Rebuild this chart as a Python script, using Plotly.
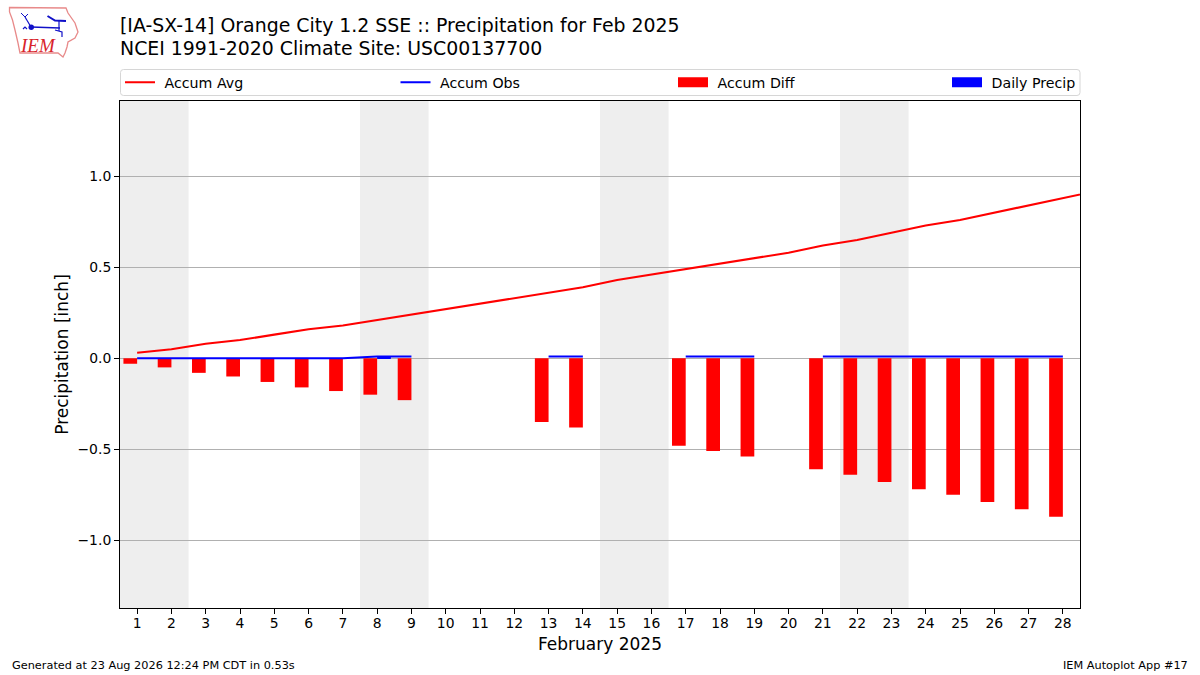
import plotly.graph_objects as go

# day of month for the whole chart, 29 is only there so the avg line runs off the right edge
avg_days = list(range(1, 30))
accum_avg = [0.03, 0.05, 0.08, 0.10, 0.13, 0.16, 0.18, 0.21, 0.24, 0.27,
             0.30, 0.33, 0.36, 0.39, 0.43, 0.46, 0.49, 0.52, 0.55, 0.58,
             0.62, 0.65, 0.69, 0.73, 0.76, 0.80, 0.84, 0.88, 0.92]

days = list(range(1, 29))
accum_obs = [0, 0, 0, 0, 0, 0, 0, 0.01, 0.01, None,
             None, None, 0.01, 0.01, None, None, 0.01, 0.01, 0.01, None,
             0.01, 0.01, 0.01, 0.01, 0.01, 0.01, 0.01, 0.01]
accum_diff = [-0.03, -0.05, -0.08, -0.10, -0.13, -0.16, -0.18, -0.20, -0.23, None,
              None, None, -0.35, -0.38, None, None, -0.48, -0.51, -0.54, None,
              -0.61, -0.64, -0.68, -0.72, -0.75, -0.79, -0.83, -0.87]
daily_precip = [0, 0, 0, 0, 0, 0, 0, 0.01, 0, None,
                None, None, 0, 0, None, None, 0, 0, 0, None,
                0, 0, 0, 0, 0, 0, 0, 0]

weekends = [(0.5, 2.5), (7.5, 9.5), (14.5, 16.5), (21.5, 23.5)]
y_ticks = [-1.0, -0.5, 0.0, 0.5, 1.0]
y_labels = ["\u22121.0", "\u22120.5", "0.0", "0.5", "1.0"]

FONT = "DejaVu Sans"
W, H = 1200, 675
L, R, T, B = 120, 1080, 101, 608
GAP = "\u00a0"  # legend text sits a bit further from its key in the original


# paper coords from page pixels, used for things outside the axes
def px(x):
    return (x - L) / (R - L)


def py(y):
    return (B - y) / (B - T)


def path(points, close=False):
    d = "M " + " L ".join(f"{px(x):.5f},{py(y):.5f}" for x, y in points)
    return d + (" Z" if close else "")


# one legend per entry, a single plotly legend wraps at this spacing
def legend_at(x):
    return dict(
        orientation="h", x=px(x), y=py(82.5), xanchor="left", yanchor="middle",
        bgcolor="rgba(0,0,0,0)", borderwidth=0, itemclick=False, itemdoubleclick=False,
        font=dict(size=14.2),
    )


fig = go.Figure()

fig.add_trace(go.Bar(
    x=days, y=accum_diff, name="Accum Diff", marker_color="#ff0000", marker_line_width=0,
    width=0.4, offset=-0.4, showlegend=False,
))
fig.add_trace(go.Bar(
    x=days, y=daily_precip, name="Daily Precip", marker_color="#0000ff", marker_line_width=0,
    width=0.4, offset=0, showlegend=False,
))
fig.add_trace(go.Scatter(
    x=avg_days, y=accum_avg, name=GAP + "Accum Avg", mode="lines", legend="legend",
    line=dict(color="#ff0000", width=2.08), showlegend=True,
))
fig.add_trace(go.Scatter(
    x=days, y=accum_obs, name=GAP + "Accum Obs", mode="lines", legend="legend2",
    line=dict(color="#0000ff", width=2.08), showlegend=True,
))

# thick legend-only lines, the bar legend key is too small otherwise
fig.add_trace(go.Scatter(
    x=[None], y=[None], name=GAP + "Accum Diff", mode="lines", legend="legend3",
    line=dict(color="#ff0000", width=10), showlegend=True,
))
fig.add_trace(go.Scatter(
    x=[None], y=[None], name=GAP + "Daily Precip", mode="lines", legend="legend4",
    line=dict(color="#0000ff", width=10), showlegend=True,
))

shapes = []
for start, end in weekends:
    shapes.append(dict(type="rect", xref="x", yref="paper", x0=start, x1=end, y0=0, y1=1,
                       fillcolor="#eeeeee", line_width=0, layer="below"))

# rounded legend frame
x0, x1, y0, y1, r = 120.5, 1080, 69.5, 95.5, 3
frame = (f"M {px(x0 + r):.5f},{py(y0):.5f} L {px(x1 - r):.5f},{py(y0):.5f} "
         f"Q {px(x1):.5f},{py(y0):.5f} {px(x1):.5f},{py(y0 + r):.5f} "
         f"L {px(x1):.5f},{py(y1 - r):.5f} Q {px(x1):.5f},{py(y1):.5f} {px(x1 - r):.5f},{py(y1):.5f} "
         f"L {px(x0 + r):.5f},{py(y1):.5f} Q {px(x0):.5f},{py(y1):.5f} {px(x0):.5f},{py(y1 - r):.5f} "
         f"L {px(x0):.5f},{py(y0 + r):.5f} Q {px(x0):.5f},{py(y0):.5f} {px(x0 + r):.5f},{py(y0):.5f} Z")
shapes.append(dict(type="path", xref="paper", yref="paper", path=frame,
                   line=dict(color="#d6d6d6", width=1)))

# IEM logo, state outline and the blue station mark
outline = [(9.5, 7.5), (66, 8), (68, 13), (75, 23), (78, 32), (75, 38), (68, 42), (67, 47),
           (65, 53), (63, 57), (58, 53), (20, 53), (18, 43), (15, 30), (12.5, 20), (9.5, 12)]
shapes.append(dict(type="path", xref="paper", yref="paper", path=path(outline, close=True),
                   line=dict(color="#e88a8a", width=1.3)))
for pts, width in [
    ([(31, 27), (60, 28)], 1.6),
    ([(31, 27), (25, 17)], 1.2),
    ([(21, 13), (25, 17), (28, 14)], 1),
    ([(47.5, 16), (55, 20.5), (66, 21)], 2),
    ([(59, 21), (59, 31)], 1.2),
    ([(55, 30), (62, 32), (62, 37)], 1.2),
    ([(23, 29), (25, 27), (27, 29)], 1.2),
]:
    shapes.append(dict(type="path", xref="paper", yref="paper", path=path(pts),
                       line=dict(color="#1010c8", width=width)))
shapes.append(dict(type="circle", xref="paper", yref="paper",
                   x0=px(28.5), x1=px(34), y0=py(30), y1=py(24.5),
                   fillcolor="#1010c8", line_width=0))

annotations = [
    dict(text="[IA-SX-14] Orange City 1.2 SSE :: Precipitation for Feb 2025",
         x=px(118), y=py(25), xanchor="left", yanchor="middle", font=dict(size=18.9)),
    dict(text="NCEI 1991-2020 Climate Site: USC00137700",
         x=px(118), y=py(48), xanchor="left", yanchor="middle", font=dict(size=18.9)),
    dict(text="Generated at 23 Aug 2026 12:24 PM CDT in 0.53s",
         x=px(10), y=py(665), xanchor="left", yanchor="middle", font=dict(size=11.3)),
    dict(text="IEM Autoplot App #17",
         x=px(1190), y=py(665), xanchor="right", yanchor="middle", font=dict(size=11.3)),
    dict(text="<i>IEM</i>", x=px(37.5), y=py(45), xanchor="center", yanchor="middle",
         font=dict(size=19, family="Liberation Serif", color="#d8232a")),
]
for a in annotations:
    a.update(xref="paper", yref="paper", showarrow=False)

fig.update_layout(
    width=W, height=H,
    margin=dict(l=L, r=W - R, t=T, b=H - B, pad=0, autoexpand=False),
    paper_bgcolor="white", plot_bgcolor="white",
    font=dict(family=FONT, size=13.9, color="black"),
    barmode="overlay",
    shapes=shapes, annotations=annotations,
    legend=legend_at(120),
    legend2=legend_at(395.5),
    legend3=legend_at(673),
    legend4=legend_at(947),
    xaxis=dict(
        range=[0.5, 28.5], tickmode="array", tickvals=days, ticktext=[str(d) for d in days],
        ticks="outside", ticklen=5, tickwidth=1, tickcolor="black", ticklabelstandoff=-3,
        showgrid=False, zeroline=False, showline=True, mirror=True, linecolor="black", linewidth=1,
        title=dict(text="February 2025", font=dict(size=17), standoff=8),
    ),
    yaxis=dict(
        range=[-1.372, 1.4137], tickmode="array", tickvals=y_ticks, ticktext=y_labels,
        ticks="outside", ticklen=5, tickwidth=1, tickcolor="black",
        showgrid=True, gridcolor="#b0b0b0", gridwidth=1, zeroline=False,
        showline=True, mirror=True, linecolor="black", linewidth=1,
        title=dict(text="Precipitation [inch]", font=dict(size=17), standoff=4),
    ),
)

fig.write_html("out.html", config=dict(displayModeBar=False),
               post_script="document.body.style.margin='0';")
